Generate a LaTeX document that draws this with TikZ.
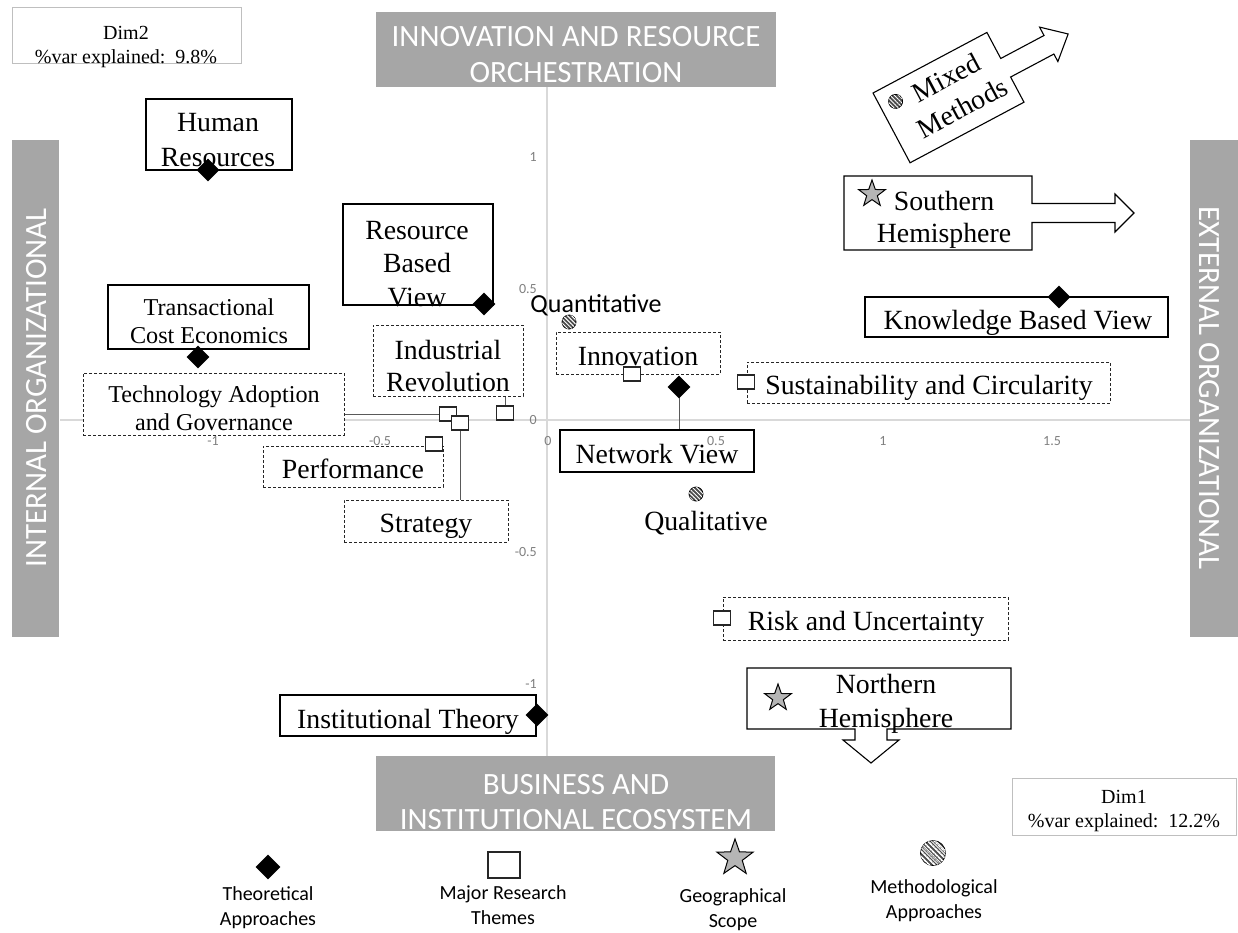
\documentclass[tikz,border=0pt]{standalone}
\usepackage{fontspec}
\setmainfont{Liberation Serif}
\newfontfamily\calibfont{Carlito}
\usetikzlibrary{shapes.geometric,patterns.meta}
\definecolor{barGray}{HTML}{A6A6A6}
\definecolor{axisGray}{HTML}{D9D9D9}
\definecolor{tickGray}{HTML}{808080}
\definecolor{dimLine}{HTML}{BFBFBF}
\begin{document}
\begin{tikzpicture}[x=1pt,y=-1pt,
  every node/.style={inner sep=0pt},
  solidbox/.style={draw=black, line width=1.1pt, fill=white},
  dashbox/.style={draw=black!85, line width=1pt, fill=white, dash pattern=on 3pt off 2pt},
  txtBig/.style={font=\fontsize{27.8}{34}\selectfont, align=center},
  txtMid/.style={font=\fontsize{24.2}{28}\selectfont, align=center},
  grayBar/.style={fill=barGray, draw=none},
  barTxt/.style={text=white, font=\calibfont\fontsize{31}{36}\selectfont, align=center},
  tickLbl/.style={text=tickGray, font=\calibfont\fontsize{14}{16}\selectfont},
  legTxt/.style={font=\calibfont\fontsize{20}{25}\selectfont, align=center},
  dimBox/.style={draw=dimLine, line width=1pt, fill=white},
  dimTxt/.style={font=\fontsize{20}{24}\selectfont, align=center},
  markTheory/.style={diamond, fill=black, minimum width=23pt, minimum height=23pt},
  markTheme/.style={rectangle, draw=black!85, line width=1.3pt, fill=white, minimum width=17pt, minimum height=14pt},
  markMethod/.style={circle, draw=black, line width=0.8pt, fill=black!70, minimum size=14pt,
    postaction={pattern={Lines[angle=-45,distance=3pt,line width=1pt]}, pattern color=white}},
  markGeo/.style={star, star points=5, star point ratio=2.5, draw=black, line width=1pt, fill=black!25, minimum size=28pt,
    postaction={pattern={Dots[distance=2pt,radius=0.45pt]}, pattern color=black!70}},
  linkLine/.style={draw=black!65, line width=1pt},
]
\useasboundingbox (0,0) rectangle (1238,932);
\fill[white] (0,0) rectangle (1238,932);

% axes
\coordinate (axL) at (60,420);
\coordinate (axR) at (1190,420);
\coordinate (axT) at (547,87);
\coordinate (axB) at (547,756);
\draw[axisGray, line width=1.5pt] (axL) -- (axR);
\draw[axisGray, line width=1.5pt] (axT) -- (axB);

% dimension bars
\node[grayBar, minimum width=400pt, minimum height=75pt] (topbar) at (576,49.5) {};
\node[barTxt] (topbar-t) at (576,55) {INNOVATION AND RESOURCE\\ORCHESTRATION};
\node[grayBar, minimum width=399pt, minimum height=75pt] (botbar) at (575.5,793.5) {};
\node[barTxt, font=\calibfont\fontsize{31}{35}\selectfont] (botbar-t) at (576,802) {BUSINESS AND\\INSTITUTIONAL ECOSYSTEM};
\node[grayBar, minimum width=47pt, minimum height=497pt] (leftbar) at (35.5,388.5) {};
\node[barTxt, rotate=90] (leftbar-t) at (37,388) {INTERNAL ORGANIZATIONAL};
\node[grayBar, minimum width=48pt, minimum height=497pt] (rightbar) at (1214,388.5) {};
\node[barTxt, rotate=-90] (rightbar-t) at (1209,388) {EXTERNAL ORGANIZATIONAL};

% explained variance
\node[dimBox, minimum width=229pt, minimum height=56pt] (dim2) at (126.5,35) {};
\node[dimTxt] (dim2-t) at (126,47) {Dim2\\\%var explained:\enspace 9.8\%};
\node[dimBox, minimum width=224pt, minimum height=57pt] (dim1) at (1124,806.5) {};
\node[dimTxt] (dim1-t) at (1124,811.4) {Dim1\\\%var explained:\enspace 12.2\%};

% category boxes
\node[solidbox, minimum width=146pt, minimum height=71pt] (hr) at (219,134.5) {};
\node[txtBig, font=\fontsize{27.8}{35}\selectfont] (hr-t) at (218,140.5) {Human\\Resources};

\node[solidbox, minimum width=150pt, minimum height=101pt] (rbv) at (418,254.5) {};
\node[txtBig, font=\fontsize{27.8}{33.5}\selectfont] (rbv-t) at (417,264) {Resource\\Based\\View};

\node[solidbox, minimum width=201pt, minimum height=64pt] (tce) at (208.5,317) {};
\node[txtMid] (tce-t) at (209,321) {Transactional\\Cost Economics};

\node[dashbox, minimum width=261pt, minimum height=62pt] (tech) at (213.5,404) {};
\node[txtMid] (tech-t) at (214,408) {Technology Adoption\\and Governance};

\node[dashbox, minimum width=150pt, minimum height=71pt] (ind) at (448,360.5) {};
\node[txtBig, font=\fontsize{27.8}{32}\selectfont] (ind-t) at (448,365.5) {Industrial\\Revolution};

\node[dashbox, minimum width=180pt, minimum height=41pt] (perf) at (353,466.5) {};
\node[txtBig] (perf-t) at (353,469) {Performance};

\node[dashbox, minimum width=164pt, minimum height=42pt] (strat) at (426,521) {};
\node[txtBig] (strat-t) at (426,526) {Strategy};

\node[dashbox, minimum width=164pt, minimum height=42pt] (inno) at (638,353) {};
\node[txtBig] (inno-t) at (638,356) {Innovation};

\node[solidbox, minimum width=194pt, minimum height=42pt] (net) at (657,451) {};
\node[txtBig] (net-t) at (657,454) {Network View};

\node[dashbox, minimum width=363pt, minimum height=41pt] (sust) at (928.5,382.5) {};
\node[txtBig] (sust-t) at (929,388) {Sustainability and Circularity};

\node[solidbox, minimum width=303pt, minimum height=40pt] (kbv) at (1016.5,317) {};
\node[txtBig] (kbv-t) at (1018,322.5) {Knowledge Based View};

\node[dashbox, minimum width=285pt, minimum height=43pt] (risk) at (865.5,618.5) {};
\node[txtBig] (risk-t) at (866,624) {Risk and Uncertainty};

\node[solidbox, minimum width=256pt, minimum height=41pt] (inst) at (408,715.5) {};
\node[txtBig] (inst-t) at (408,721.5) {Institutional Theory};

\node[txtBig] (qual-t) at (706,523) {Qualitative};
\node[font=\calibfont\fontsize{26}{30}\selectfont] (quant-t) at (596,305) {Quantitative};

% geographical arrows
\draw[solidbox] (844,176) -- (1032,176) -- (1032,203.5) -- (1115,203.5) -- (1115,194) -- (1134,213)
  -- (1115,232) -- (1115,222.5) -- (1032,222.5) -- (1032,250) -- (844,250) -- cycle;
\node[txtBig, font=\fontsize{27.8}{32}\selectfont] (south-t) at (944,219.8) {Southern\\Hemisphere};

\draw[solidbox] (747,668) -- (1011,668) -- (1011,729) -- (887,729) -- (887,740) -- (899,740) -- (871,763)
  -- (843,740) -- (855,740) -- (855,729) -- (747,729) -- cycle;
\node[txtBig] (north-t) at (886,703.8) {Northern\\Hemisphere};

% mixed methods arrow
\begin{scope}[shift={(873,93)}, rotate=28]
  \draw[solidbox] (0,0) -- (129,0) -- (129,29.5) -- (178,29.5) -- (178,20) -- (200,39.5) -- (178,59)
    -- (178,50.5) -- (129,50.5) -- (129,79) -- (0,79) -- cycle;
  \node[markMethod, transform shape] (mixed-m) at (16,18) {};
  \node[txtBig, transform shape] (mixed-t) at (72,38) {Mixed\\Methods};
\end{scope}

% axis tick labels
\foreach \v/\x [count=\i] in {-1/213,-0.5/380,0/548,0.5/716,1/883,1.5/1052}
  \node[tickLbl] (xtick\i) at (\x,441) {\v};
\foreach \v/\y [count=\i] in {1/157,0.5/289,0/420,-0.5/552,-1/684}
  \node[tickLbl, anchor=east] (ytick\i) at (537,\y) {\v};

% connectors
\coordinate (tech-p) at (448,414);
\coordinate (strat-p) at (460,423);
\coordinate (ind-p) at (505,413);
\coordinate (net-p) at (679,387);
\draw[linkLine] (tech-p) -- (tech-p -| tech.east);
\draw[linkLine] (strat-p) -- (strat-p |- strat.north);
\draw[linkLine] (ind-p) -- (ind-p |- ind.south);
\draw[linkLine] (net-p) -- (net-p |- net.north);

% theoretical approaches
\node[markTheory] (hr-m) at (208,170) {};
\node[markTheory] (rbv-m) at (484,304) {};
\node[markTheory] (tce-m) at (198,357) {};
\node[markTheory] (net-m) at (net-p) {};
\node[markTheory] (kbv-m) at (1059,297) {};
\node[markTheory] (inst-m) at (537,715) {};

% major research themes
\node[markTheme] (tech-m) at (tech-p) {};
\node[markTheme] (strat-m) at (strat-p) {};
\node[markTheme] (ind-m) at (ind-p) {};
\node[markTheme] (perf-m) at (434,444) {};
\node[markTheme] (inno-m) at (632,374) {};
\node[markTheme] (sust-m) at (746,382) {};
\node[markTheme] (risk-m) at (722,618) {};

% methodological approaches
\node[markMethod] (quant-m) at (569,322) {};
\node[markMethod] (qual-m) at (696,494) {};

% geographical scope
\node[markGeo] (south-m) at (872,194) {};
\node[markGeo] (north-m) at (778,698) {};

% legend
\node[markTheory, minimum width=25pt, minimum height=25pt] (lg-th) at (268,867) {};
\node[legTxt] (lg-th-t) at (268,907.4) {Theoretical\\Approaches};
\node[markTheme, minimum width=32pt, minimum height=26pt, line width=1.5pt] (lg-tm) at (504,865) {};
\node[legTxt] (lg-tm-t) at (503,905.5) {Major Research\\Themes};
\node[markGeo, minimum size=38pt] (lg-geo) at (735,858) {};
\node[legTxt] (lg-geo-t) at (733,909.4) {Geographical\\Scope};
\node[markMethod, minimum size=25pt, postaction={pattern={Lines[angle=-45,distance=4pt,line width=1.4pt]}, pattern color=white}] (lg-me) at (933,853) {};
\node[legTxt] (lg-me-t) at (934,900.4) {Methodological\\Approaches};
\end{tikzpicture}
\end{document}
